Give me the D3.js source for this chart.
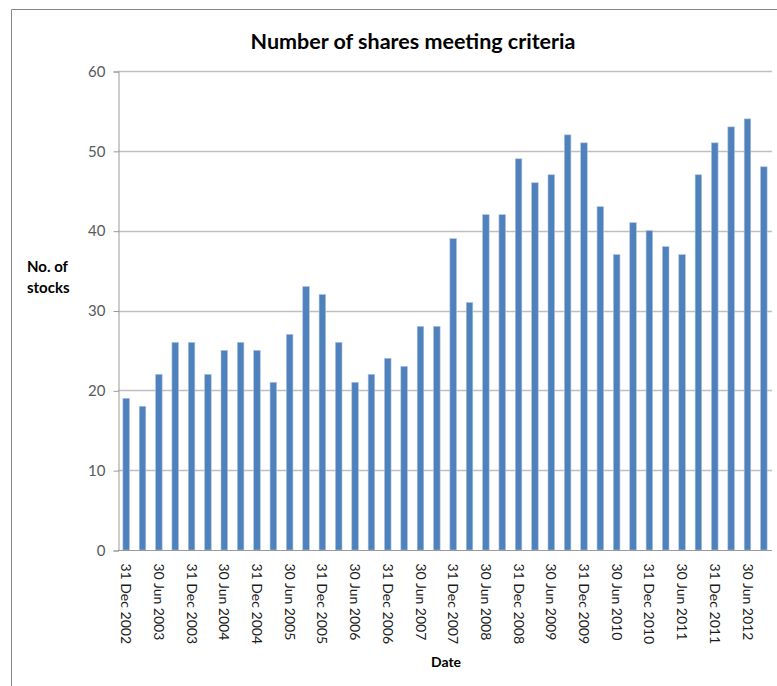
<!DOCTYPE html>
<html>
<head>
<meta charset="utf-8">
<script src="https://cdn.jsdelivr.net/npm/d3@7"></script>
<style>
  body { margin: 0; background: #fff; }
  svg { display: block; font-family: Lato, 'Open Sans', sans-serif; }
</style>
</head>
<body>
<svg></svg>
<script>
// Quarter-end dates, Dec 2002 to Sep 2012.
const dates = [
  '31 Dec 2002', '31 Mar 2003', '30 Jun 2003', '30 Sep 2003',
  '31 Dec 2003', '31 Mar 2004', '30 Jun 2004', '30 Sep 2004',
  '31 Dec 2004', '31 Mar 2005', '30 Jun 2005', '30 Sep 2005',
  '31 Dec 2005', '31 Mar 2006', '30 Jun 2006', '30 Sep 2006',
  '31 Dec 2006', '31 Mar 2007', '30 Jun 2007', '30 Sep 2007',
  '31 Dec 2007', '31 Mar 2008', '30 Jun 2008', '30 Sep 2008',
  '31 Dec 2008', '31 Mar 2009', '30 Jun 2009', '30 Sep 2009',
  '31 Dec 2009', '31 Mar 2010', '30 Jun 2010', '30 Sep 2010',
  '31 Dec 2010', '31 Mar 2011', '30 Jun 2011', '30 Sep 2011',
  '31 Dec 2011', '31 Mar 2012', '30 Jun 2012', '30 Sep 2012'
];
const stocks = [
  19, 18, 22, 26, 26, 22, 25, 26, 25, 21,
  27, 33, 32, 26, 21, 22, 24, 23, 28, 28,
  39, 31, 42, 42, 49, 46, 47, 52, 51, 43,
  37, 41, 40, 38, 37, 47, 51, 53, 54, 48
];
const yTicks = [0, 10, 20, 30, 40, 50, 60];
// Only every other date is labelled.
const shownDates = dates.filter((d, i) => i % 2 === 0);

// Set up.
const width = 777;
const height = 686;
const margin = { top: 71, right: 5, bottom: 136, left: 118 };

const svg = d3.select('svg')
  .attr('width', width)
  .attr('height', height);

// Chart frame (only top and left edges show).
svg.append('path')
  .attr('d', `M11.5,${height} V9.5 H${width}`)
  .attr('fill', 'none')
  .attr('stroke', '#868686')
  .attr('stroke-width', 1);

// Scales.
const x = d3.scaleBand()
  .domain(dates)
  .range([margin.left, width - margin.right])
  .paddingInner(0.6)
  .paddingOuter(0.3);

const y = d3.scaleLinear()
  .domain([0, 60])
  .range([height - margin.bottom, margin.top]);

// Gridlines.
svg.append('g')
  .selectAll('line')
  .data(yTicks.filter(d => d > 0))
  .join('line')
  .attr('x1', margin.left)
  .attr('x2', width - margin.right)
  .attr('y1', d => Math.round(y(d)) + 0.5)
  .attr('y2', d => Math.round(y(d)) + 0.5)
  .attr('stroke', '#bfbfbf')
  .attr('stroke-width', 1.5);

// Y axis.
const yAxis = svg.append('g')
  .attr('transform', `translate(${margin.left + 0.5},0.5)`)
  .call(d3.axisLeft(y).tickValues(yTicks).tickSize(5).tickPadding(8));
yAxis.select('.domain').attr('stroke', '#9a9a9a');
yAxis.selectAll('.tick line').attr('stroke', '#9a9a9a');
yAxis.selectAll('.tick text')
  .attr('fill', '#595959')
  .style('font-size', '15px')
  .style('font-family', 'Lato, sans-serif');

// Bars.
svg.append('g')
  .selectAll('rect')
  .data(stocks)
  .join('rect')
  .attr('x', (d, i) => x(dates[i]))
  .attr('y', d => y(d))
  .attr('width', x.bandwidth())
  .attr('height', d => y(0) - y(d))
  .attr('fill', '#4f81bd')
  .attr('stroke', '#a9c1df')
  .attr('stroke-width', 0.6);

// X axis.
const xAxis = svg.append('g')
  .attr('transform', `translate(0,${y(0) + 0.5})`)
  .call(d3.axisBottom(x).tickValues(shownDates).tickSize(0).tickPadding(0));
xAxis.select('.domain')
  .attr('d', `M${margin.left},0H${width - margin.right}`)
  .attr('stroke', '#9a9a9a');
xAxis.selectAll('.tick text')
  .attr('transform', 'rotate(90)')
  .attr('x', 13)
  .attr('y', 0)
  .attr('dy', '0.35em')
  .attr('text-anchor', 'start')
  .attr('fill', '#1a1a1a')
  .style('font-size', '14px')
  .style('font-family', 'Lato, sans-serif');

// Title.
svg.append('text')
  .attr('x', 413)
  .attr('y', 49)
  .attr('text-anchor', 'middle')
  .style('font-size', '21.5px')
  .style('font-weight', 'bold')
  .text('Number of shares meeting criteria');

// Axis titles.
const yTitle = svg.append('text')
  .attr('x', 27)
  .attr('y', 272)
  .style('font-size', '15px')
  .style('font-weight', 'bold');
yTitle.append('tspan').text('No. of');
yTitle.append('tspan').attr('x', 27).attr('dy', 21).text('stocks');

svg.append('text')
  .attr('x', 446)
  .attr('y', 667)
  .attr('text-anchor', 'middle')
  .style('font-size', '14px')
  .style('font-weight', 'bold')
  .text('Date');
</script>
</body>
</html>
